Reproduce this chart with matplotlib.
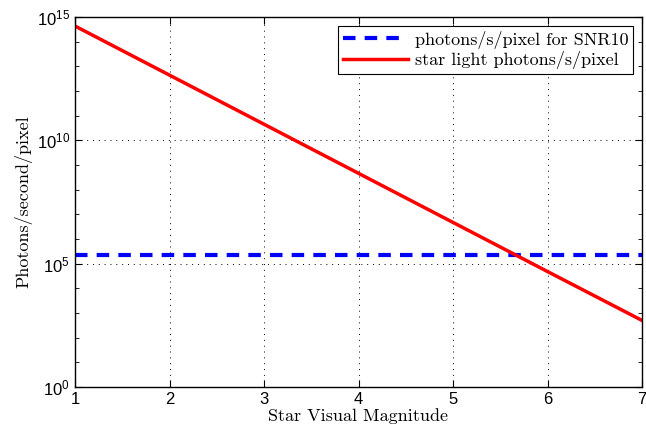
import matplotlib
matplotlib.use("Agg")
import matplotlib.pyplot as plt
from matplotlib.ticker import LogLocator, NullFormatter

# star visual magnitude vs photon counts
magnitude = [1, 2, 3, 4, 5, 6, 7]
star_photons = [4.3e14, 4.4e12, 4.5e10, 4.6e8, 4.7e6, 4.8e4, 5.0e2]
snr10_photons = [2.2e5] * len(magnitude)

plt.rcParams['mathtext.fontset'] = 'custom'
plt.rcParams['mathtext.rm'] = 'Liberation Sans'
plt.rcParams['font.family'] = ['Liberation Sans', 'DejaVu Sans']

serif = ['cmr10', 'Liberation Serif', 'DejaVu Serif']

fig = plt.figure(figsize=(6.46, 4.37), dpi=100)
ax = fig.add_axes([75 / 646, 50 / 437, 567 / 646, 370 / 437])

ax.semilogy(magnitude, snr10_photons, color='blue', linestyle='--', linewidth=3,
            dashes=(3, 2.2), label='photons/s/pixel for SNR10')
ax.semilogy(magnitude, star_photons, color='red', linewidth=2.5,
            label='star light photons/s/pixel')

ax.set_xlim(1, 7)
ax.set_ylim(1e0, 1e15)
ax.set_xticks(magnitude)
ax.yaxis.set_major_locator(plt.FixedLocator([1e0, 1e5, 1e10, 1e15]))
ax.yaxis.set_minor_locator(LogLocator(base=10, subs=[1.0], numticks=30))
ax.yaxis.set_minor_formatter(NullFormatter())

ax.grid(True, which='major', color='black', linestyle=(0, (1, 5)), linewidth=0.7)
ax.tick_params(which='both', direction='in', top=True, right=True, labelsize=12)
ax.tick_params(which='major', length=5)
ax.tick_params(which='minor', length=3)
for s in ax.spines.values():
    s.set_linewidth(1.0)

ax.set_xlabel('Star Visual Magnitude', family=serif, fontsize=13, labelpad=1)
ax.set_ylabel('Photons/second/pixel', family=serif, fontsize=13, labelpad=3)

leg = ax.legend(loc='upper right', prop={'family': serif, 'size': 13},
                fancybox=False, framealpha=1, edgecolor='black',
                handlelength=3.6, borderaxespad=0.5, borderpad=0.25,
                labelspacing=0.15, handletextpad=0.4)
leg.get_frame().set_linewidth(0.8)

fig.savefig('out.png', dpi=100)
